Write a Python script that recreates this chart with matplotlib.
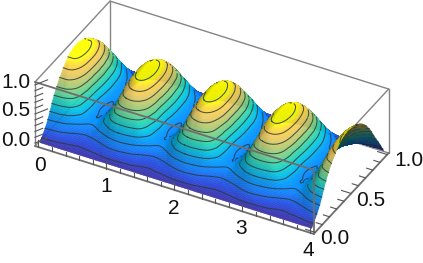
import numpy as np
import matplotlib
matplotlib.use("Agg")
import matplotlib.pyplot as plt
import matplotlib.tri as mtri
from matplotlib.colors import LinearSegmentedColormap
from mpl_toolkits.mplot3d import proj3d

# heights, one period in x (repeats 4 times), rows are y
y_stations = [0.0, 0.1, 0.2, 0.3, 0.4, 0.5, 0.6, 0.7, 0.8, 0.9, 1.0]
x_period = [0.0, 0.125, 0.25, 0.375, 0.5, 0.625, 0.75, 0.875]
z_period = [
    [0.00, 0.00, 0.00, 0.00, 0.00, 0.00, 0.00, 0.00],
    [0.22, 0.21, 0.18, 0.13, 0.10, 0.11, 0.14, 0.19],
    [0.56, 0.55, 0.49, 0.35, 0.26, 0.27, 0.37, 0.51],
    [0.80, 0.79, 0.67, 0.42, 0.26, 0.28, 0.45, 0.71],
    [0.96, 0.94, 0.77, 0.44, 0.24, 0.27, 0.50, 0.82],
    [1.01, 0.99, 0.80, 0.47, 0.27, 0.29, 0.53, 0.85],
    [0.97, 0.95, 0.78, 0.47, 0.28, 0.31, 0.53, 0.83],
    [0.86, 0.85, 0.69, 0.43, 0.26, 0.28, 0.48, 0.74],
    [0.64, 0.63, 0.51, 0.32, 0.20, 0.21, 0.36, 0.54],
    [0.32, 0.32, 0.25, 0.16, 0.10, 0.11, 0.18, 0.27],
    [0.00, 0.00, 0.00, 0.00, 0.00, 0.00, 0.00, 0.00],
]
contour_levels = [0.05, 0.15, 0.25, 0.35, 0.45, 0.55, 0.65, 0.75, 0.85, 0.95]

x_labels = ["0", "1", "2", "3", "4"]
y_labels = ["0.0", "0.5", "1.0"]
z_labels = ["0.0", "0.5", "1.0"]

stop_heights = [0, 0.08, 0.2, 0.3, 0.4, 0.5, 0.6, 0.7, 0.8, 0.88, 0.94, 1]
stop_colors = ["#3a30a8", "#2448e0", "#0a80ff", "#009cff", "#00c4e8", "#22d6b8",
               "#70d48c", "#b8cc70", "#f0cc60", "#ffd840", "#ffff10", "#ffff00"]
cmap = LinearSegmentedColormap.from_list("surf", list(zip(stop_heights, stop_colors)))

W, H = 423, 263
fig = plt.figure(figsize=(W / 100, H / 100), dpi=100)
S = 700
ax = fig.add_axes([0, 0, S / W, S / H], projection="3d", proj_type="ortho")
ax.computed_zorder = False
ax.set_axis_off()
ax.patch.set_alpha(0)
elev, azim = 35.7, -61.6
ax.view_init(elev=elev, azim=azim)
xlo, xhi, ylo, yhi, zlo, zhi = -0.05, 4.05, -0.02, 1.02, -0.05, 1.05
ax.set_xlim(xlo, xhi)
ax.set_ylim(ylo, yhi)
ax.set_zlim(zlo, zhi)
aspect = (4.02, 2, 1)


def to_px(x, y, z):
    px, py, _ = proj3d.proj_transform(x, y, z, ax.get_proj())
    return ax.transData.transform(np.column_stack([np.ravel(px), np.ravel(py)]))


# fit the box onto the place it has in the picture
ax.set_box_aspect(aspect, zoom=1)
ax.apply_aspect()
a, b = to_px(xlo, ylo, zlo)[0], to_px(xhi, ylo, zlo)[0]
ax.set_box_aspect(aspect, zoom=278.7 / (b[0] - a[0]))
ax.apply_aspect()
a = to_px(xlo, ylo, zlo)[0]
ax.set_position([(35 - a[0]) / W, ((H - 146) - a[1]) / H, S / W, S / H])
ax.apply_aspect()

# mesh
x_st = np.array([i + p for i in range(4) for p in x_period] + [4.0])
z_tab = np.array(z_period)
z_tab = np.hstack([z_tab] * 4 + [z_tab[:, :1]])
Xc, Yc = np.meshgrid(x_st, y_stations)
tri = mtri.Triangulation(Xc.ravel(), Yc.ravel())
smooth = mtri.CubicTriInterpolator(tri, z_tab.ravel(), kind="geom")
xf = np.linspace(0, 4 - 1e-6, 401)
yf = np.linspace(1e-6, 1 - 1e-6, 101)
X, Y = np.meshgrid(xf, yf)
Z = np.ma.filled(smooth(X, Y), 0.0)

# colours: height, light, underside
dzdy, dzdx = np.gradient(Z, yf, xf)
nx, ny, nz = -dzdx, -dzdy / 2, np.ones_like(Z)
nn = np.sqrt(nx**2 + ny**2 + nz**2)
nx, ny, nz = nx / nn, ny / nn, nz / nn
el, az = np.radians(elev), np.radians(azim)
view = np.array([np.cos(az) * np.cos(el), np.sin(az) * np.cos(el), np.sin(el)])
facing = nx * view[0] + ny * view[1] + nz * view[2]
light = np.array([0.45, -0.05, 0.89])
shade = np.clip(0.62 + 0.52 * (nx * light[0] + ny * light[1] + nz * light[2]), 0, 1)
shade[facing < 0] = np.clip(0.25 + 0.3 * nz[facing < 0], 0, 1)
colors = cmap(np.clip(Z, 0, 1))
colors[..., :3] *= shade[..., None]

surf = ax.plot_surface(X, Y, Z, facecolors=colors, rstride=1, cstride=1, shade=False,
                       linewidth=0.2, antialiased=True, zorder=2)
surf.set_edgecolor(colors[:-1, :-1].reshape(-1, 4))


def depth_of(x, y, z):
    return np.ravel(x) * view[0] + 2 * np.ravel(y) * view[1] + np.ravel(z) * view[2]


# nearest surface depth per 2 px cell, so contour lines can hide behind the peaks
mesh_px = to_px(X.ravel(), Y.ravel(), Z.ravel())
buf = np.full((H // 2 + 2, W // 2 + 2), -np.inf)
ci = np.clip((mesh_px // 2).astype(int), 0, [W // 2 + 1, H // 2 + 1])
np.maximum.at(buf, (ci[:, 1], ci[:, 0]), depth_of(X, Y, Z))

# contour lines on the surface
tmp_fig, tmp_ax = plt.subplots()
cs = tmp_ax.contour(X, Y, Z, levels=contour_levels)
for lev, segs in zip(contour_levels, cs.allsegs):
    for seg in segs:
        zs = np.full(len(seg), lev)
        p = to_px(seg[:, 0], seg[:, 1], zs)
        c = np.clip((p // 2).astype(int), 0, [W // 2 + 1, H // 2 + 1])
        seen = depth_of(seg[:, 0], seg[:, 1], zs) > buf[c[:, 1], c[:, 0]] - 0.05
        xs, ys = seg[:, 0].copy(), seg[:, 1].copy()
        xs[~seen] = np.nan
        ys[~seen] = np.nan
        ax.plot(xs, ys, zs, color="#2c3a3a", lw=0.75, alpha=0.85, zorder=2.5)
plt.close(tmp_fig)

# box, behind and in front of the surface
back_edges = [((xlo, yhi, zhi), (xhi, yhi, zhi)), ((xlo, ylo, zhi), (xlo, yhi, zhi)),
              ((xlo, yhi, zlo), (xlo, yhi, zhi)), ((xhi, yhi, zlo), (xhi, yhi, zhi)),
              ((xhi, ylo, zhi), (xhi, yhi, zhi)), ((xlo, ylo, zlo), (xlo, yhi, zlo)),
              ((xlo, yhi, zlo), (xhi, yhi, zlo)), ((xlo, ylo, zlo), (xlo, ylo, zhi))]
front_edges = [((xlo, ylo, zhi), (xhi, ylo, zhi)), ((xhi, ylo, zlo), (xhi, ylo, zhi)),
               ((xlo, ylo, zlo), (xhi, ylo, zlo)), ((xhi, ylo, zlo), (xhi, yhi, zlo))]
for p, q in back_edges:
    ax.plot(*zip(p, q), color="#858585", lw=1.0, zorder=1, solid_capstyle="round")
for p, q in front_edges:
    ax.plot(*zip(p, q), color="#6e6e6e", lw=1.3, zorder=3, solid_capstyle="round")

tick_col = "#555555"
for v in np.arange(0, 4.01, 0.2):
    big = abs(v - round(v)) < 1e-6
    ax.plot([v, v], [ylo, ylo], [zlo, zlo + (0.13 if big else 0.07)],
            color=tick_col, lw=0.8, zorder=3)
for v in np.arange(0, 1.01, 0.1):
    big = abs(v * 2 - round(v * 2)) < 1e-6
    ax.plot([xhi, xhi - (0.14 if big else 0.09)], [v, v], [zlo, zlo],
            color=tick_col, lw=0.8, zorder=3)
    d = 0.09 if big else 0.055
    ax.plot([xlo, xlo + d], [ylo, ylo + d], [v, v], color=tick_col, lw=0.8, zorder=3)

# tick labels, centres in picture pixels
x_pos = [(40, 165.5), (106.5, 186.5), (174, 208.5), (241, 229), (308, 250.5)]
y_pos = [(334.5, 238.5), (371, 201), (408.5, 161)]
z_pos = [(16, 141), (16, 110.5), (16, 82.5)]
for labs, places in ((x_labels, x_pos), (y_labels, y_pos), (z_labels, z_pos)):
    for lab, (px, py) in zip(labs, places):
        fig.text(px / W, 1 - py / H, lab, ha="center", va="center", fontsize=15,
                 family="Liberation Sans", color="#111111")

fig.savefig("out.png", dpi=100)
